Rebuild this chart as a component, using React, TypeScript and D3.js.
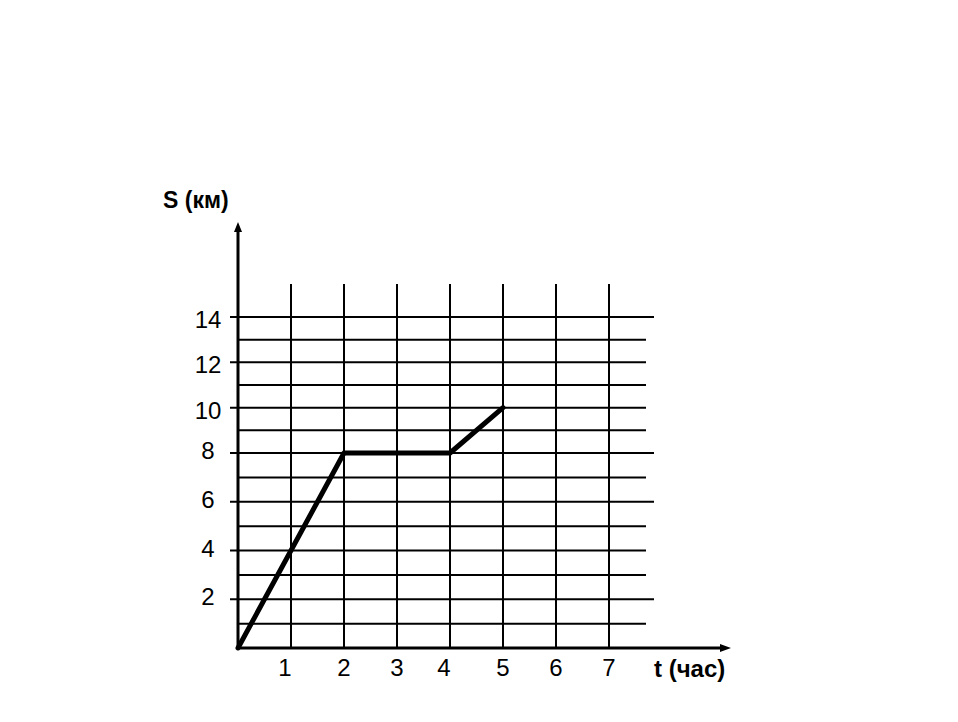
import React from "react";
import * as d3 from "d3";

// Data
const timeHours = [0, 2, 4, 5];
const distanceKm = [0, 8, 8, 10];
const xTickValues = [1, 2, 3, 4, 5, 6, 7];
const yTickValues = [2, 4, 6, 8, 10, 12, 14];
const yGridValues = [1, 2, 3, 4, 5, 6, 7, 8, 9, 10, 11, 12, 13, 14];
const xTitle = "t (час)";
const yTitle = "S (км)";

const W = 958;
const H = 722;

export default function App() {
  const x = d3.scaleLinear().domain([0, 7]).range([238, 609]);
  const y = d3.scaleLinear().domain([0, 8, 14]).range([648, 453, 317]);

  const x0 = x(0);
  const y0 = y(0);
  const gridTop = 284;

  const points: [number, number][] = timeHours.map((t, i) => [t, distanceKm[i]]);
  const line = d3
    .line<[number, number]>()
    .x((d) => x(d[0]))
    .y((d) => y(d[1]));

  const font = "'Liberation Sans', Arial, sans-serif";

  return (
    <svg
      width={W}
      height={H}
      style={{ position: "absolute", left: 0, top: 0, background: "#fff" }}
    >
      <rect x={0} y={0} width={W} height={H} fill="#fff" />
      {/* vertical grid lines */}
      {xTickValues.map((v) => (
        <line
          key={"vx" + v}
          x1={x(v)}
          x2={x(v)}
          y1={gridTop}
          y2={y0}
          stroke="#000"
          strokeWidth={2}
        />
      ))}
      {/* horizontal grid lines */}
      {yGridValues.map((v) => {
        const labeled = yTickValues.includes(v);
        const long = [2, 6, 8, 14].includes(v);
        return (
          <line
            key={"hy" + v}
            x1={labeled ? x0 - 8 : x0}
            x2={long ? 654 : 646}
            y1={y(v)}
            y2={y(v)}
            stroke="#000"
            strokeWidth={2}
          />
        );
      })}
      {/* axes */}
      <line x1={x0} x2={x0} y1={y0 + 1} y2={230} stroke="#000" strokeWidth={3} />
      <path d={`M${x0},${222} L${x0 - 4},${232} L${x0 + 4},${232} Z`} fill="#000" />
      <line x1={x0 - 1} x2={722} y1={y0} y2={y0} stroke="#000" strokeWidth={3} />
      <path d={`M${731},${y0} L${720},${y0 - 4} L${720},${y0 + 4} Z`} fill="#000" />

      {/* data line */}
      <path
        d={line(points) || ""}
        fill="none"
        stroke="#000"
        strokeWidth={5}
        strokeLinejoin="round"
        strokeLinecap="round"
      />

      {/* y tick labels */}
      {yTickValues.map((v) => (
        <text
          key={"yl" + v}
          x={208}
          y={y(v) + (v >= 10 ? 11 : 6)}
          textAnchor="middle"
          fontFamily={font}
          fontSize={24}
          fill="#000"
        >
          {v}
        </text>
      ))}
      {/* x tick labels */}
      {xTickValues.map((v) => (
        <text
          key={"xl" + v}
          x={x(v) - (v === 1 || v === 4 ? 6 : 0)}
          y={676}
          textAnchor="middle"
          fontFamily={font}
          fontSize={24}
          fill="#000"
        >
          {v}
        </text>
      ))}

      {/* axis titles */}
      <text x={163} y={208} fontFamily={font} fontSize={23} fontWeight="bold" fill="#000">
        {yTitle}
      </text>
      <text x={654} y={677} fontFamily={font} fontSize={24} fontWeight="bold" fill="#000">
        {xTitle}
      </text>
    </svg>
  );
}
